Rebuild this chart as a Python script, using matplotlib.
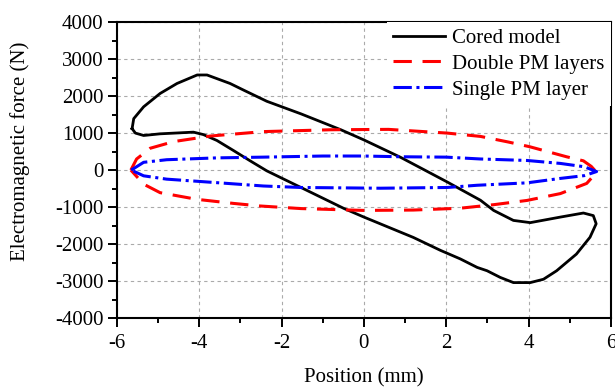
import numpy as np
import matplotlib.pyplot as plt
from matplotlib.ticker import MultipleLocator

# Cored model loop (position mm, force N)
cored_x = [-5.63, -5.59, -5.35, -4.95, -4.54, -4.05, -3.81, -3.25, -2.92, -2.36,
           -1.53, -0.56, 0.00, 0.89, 2.02, 2.83, 3.15, 3.63, 4.04, 4.77,
           5.33, 5.57, 5.64, 5.49, 5.16, 4.68, 4.36, 4.04, 3.63, 3.31,
           2.99, 2.75, 2.34, 1.86, 1.20, 0.00, -0.48, -1.53, -2.36, -2.77,
           -3.17, -3.57, -3.90, -4.14, -4.95, -5.35, -5.55, -5.63]
cored_y = [1120, 1390, 1710, 2070, 2340, 2570, 2570, 2340, 2160, 1860,
           1520, 1090, 815, 345, -320, -815, -1090, -1360, -1420, -1270,
           -1160, -1230, -1450, -1815, -2270, -2720, -2950, -3040, -3040, -2900,
           -2720, -2630, -2400, -2170, -1820, -1270, -1040, -470, -20, 255,
           530, 800, 960, 1025, 980, 935, 1000, 1120]

# Double PM layers
double_x = [-5.66, -5.52, -5.19, -4.62, -3.73, -2.44, -0.80, 0.60, 2.02, 2.83,
            3.50, 4.03, 4.92, 5.33, 5.52, 5.65, 5.41, 4.77, 3.96, 3.15,
            2.34, 1.20, 0.00, -1.53, -2.52, -3.17, -4.06, -4.95, -5.35, -5.66]
double_y = [0, 300, 590, 770, 920, 1040, 1090, 1100, 1000, 910,
            760, 630, 360, 250, 100, -60, -360, -635, -820, -935,
            -1030, -1080, -1090, -1040, -970, -900, -790, -610, -380, 0]

# Single PM layer
single_x = [-5.65, -5.35, -4.79, -3.57, -2.44, -1.00, 0.00, 0.89, 2.00, 2.83,
            3.96, 4.77, 5.35, 5.65, 5.35, 4.77, 3.96, 2.75, 2.02, 0.40,
            -1.53, -2.44, -3.57, -4.79, -5.35, -5.65]
single_y = [0, 210, 280, 330, 350, 380, 380, 360, 350, 300,
            260, 180, 90, -40, -150, -225, -345, -410, -470, -490,
            -470, -430, -340, -245, -155, 0]

plt.rcParams['font.family'] = ['Liberation Serif', 'DejaVu Serif']
plt.rcParams['axes.unicode_minus'] = False

fig = plt.figure(figsize=(6.15, 3.87), dpi=100)
ax = fig.add_axes([0.190, 0.178, 0.8035, 0.765])

ax.plot(cored_x, cored_y, '-', color='black', lw=2.0, solid_joinstyle='round',
        label='Cored model')
ax.plot(double_x, double_y, '--', color='red', lw=2.2, dashes=(6, 3.5),
        dash_joinstyle='round', label='Double PM layers')
ax.plot(single_x, single_y, color='blue', lw=2.2, dashes=(6, 1.5, 1, 1.5),
        dash_joinstyle='round', label='Single PM layer')

ax.set_xlim(-6, 6)
ax.set_ylim(-4000, 4000)
ax.xaxis.set_major_locator(MultipleLocator(2))
ax.xaxis.set_minor_locator(MultipleLocator(1))
ax.yaxis.set_major_locator(MultipleLocator(1000))
ax.yaxis.set_minor_locator(MultipleLocator(500))
ax.tick_params(which='both', direction='out', top=False, right=False,
               width=1.4, labelsize=15)
ax.tick_params(which='major', length=6.5, pad=3)
ax.tick_params(axis='x', which='major', pad=5)
ax.tick_params(which='minor', length=3.6)
for s in ax.spines.values():
    s.set_linewidth(1.5)

ax.grid(True, which='major', color='#aaaaaa', linestyle=(0, (3, 3)), lw=0.8)
ax.set_axisbelow(True)

ax.set_xlabel('Position (mm)', fontsize=15, labelpad=11)
ax.set_ylabel('Electromagnetic force (N)', fontsize=15)
ax.yaxis.set_label_coords(-0.175, 0.5625)

leg = ax.legend(loc='upper right', fontsize=15, frameon=True, fancybox=False,
                edgecolor='none', facecolor='white', framealpha=1,
                borderaxespad=0.0, borderpad=0.3, handlelength=2.5,
                handletextpad=0.35, labelspacing=0.3)

plt.savefig('out.png', dpi=100)
